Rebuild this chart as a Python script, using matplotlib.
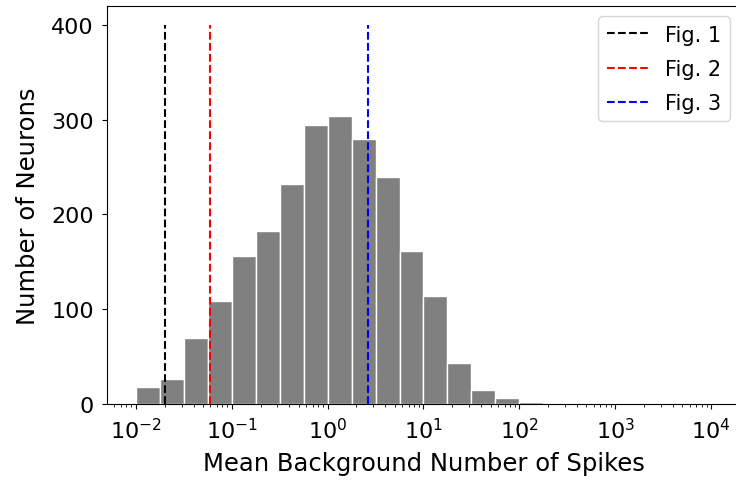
import numpy as np
import matplotlib.pyplot as plt
from matplotlib.ticker import MultipleLocator

# log-spaced bins, 4 per decade, 10^-2 .. 10^4
bin_edges = np.logspace(-2, 4, 25)
counts = [18, 26, 70, 109, 156, 183, 232, 294, 304, 280, 240, 161,
          114, 43, 15, 6, 2, 0, 0, 0, 0, 0, 0, 0]

# reference spike counts used in the figures
fig_labels = ['Fig. 1', 'Fig. 2', 'Fig. 3']
fig_values = [0.02, 0.06, 2.63]
fig_colors = ['black', 'red', 'blue']

bin_centers = np.sqrt(bin_edges[:-1] * bin_edges[1:])

fig = plt.figure(figsize=(7.36, 4.81), dpi=100)
# axes run slightly past the right edge, as in the cropped original
ax = fig.add_axes([107 / 736, 76 / 481, 633 / 736, 398 / 481])

ax.hist(bin_centers, bins=bin_edges, weights=counts,
        color='gray', edgecolor='white')

for lab, val, col in zip(fig_labels, fig_values, fig_colors):
    ax.vlines(val, 0, 400, colors=col, linestyles='--', label=lab)

ax.set_xscale('log')
ax.yaxis.set_major_locator(MultipleLocator(100))
ax.set_xlabel('Mean Background Number of Spikes', fontsize=17.5, labelpad=6)
ax.set_ylabel('Number of Neurons', fontsize=17.5, labelpad=8)
ax.tick_params(axis='both', which='major', labelsize=16, pad=6)
ax.legend(fontsize=15, labelspacing=0.68)

plt.savefig('out.png')
